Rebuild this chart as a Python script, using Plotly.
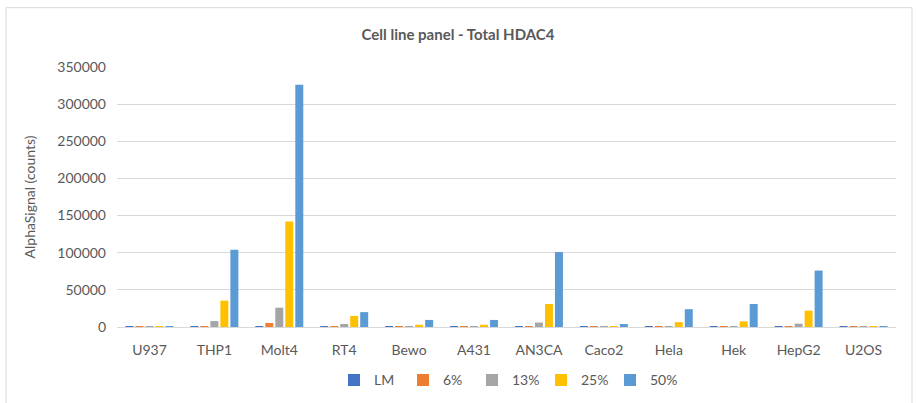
import plotly.graph_objects as go

categories = ["U937", "THP1", "Molt4", "RT4", "Bewo", "A431", "AN3CA", "Caco2", "Hela", "Hek", "HepG2", "U2OS"]
series_names = ["LM", "6%", "13%", "25%", "50%"]
colors = ["#4472C4", "#ED7D31", "#A5A5A5", "#FFC000", "#5B9BD5"]

lm   = [1000, 1000, 1000, 1000, 800, 800, 1000, 800, 800, 800, 1000, 800]
p6   = [1000, 1000, 5400, 1000, 800, 800, 1000, 800, 800, 800, 1000, 800]
p13  = [1000, 8000, 26000, 4000, 800, 800, 6000, 800, 800, 800, 4500, 800]
p25  = [1000, 35500, 142000, 15000, 3000, 3000, 31000, 800, 6500, 7500, 22000, 800]
p50  = [1000, 104000, 326000, 20000, 9500, 9500, 101000, 4000, 24000, 31000, 76000, 800]
values = [lm, p6, p13, p25, p50]

y_ticks = [0, 50000, 100000, 150000, 200000, 250000, 300000, 350000]

fig = go.Figure()
for name, vals, col in zip(series_names, values, colors):
    fig.add_trace(go.Bar(x=categories, y=vals, name=name, marker_color=col,
                         marker_line_width=0))

font_family = "Lato, 'Open Sans', sans-serif"
fig.update_layout(
    width=916, height=403,
    margin=dict(l=117, r=20, t=67, b=76, autoexpand=False),
    paper_bgcolor="white", plot_bgcolor="white",
    barmode="group", bargap=0.23, bargroupgap=0.2,
    font=dict(family=font_family, size=14, color="#595959"),
    title=dict(text="<b>Cell line panel - Total HDAC4</b>", x=0.5, xanchor="center",
               y=1 - 35 / 403, yanchor="middle",
               font=dict(family=font_family, size=15, color="#595959")),
    legend=dict(orientation="h", x=0.5, xanchor="center", y=-0.205, yanchor="middle",
                font=dict(size=14, color="#595959"), itemwidth=30, traceorder="normal",
                entrywidth=24, entrywidthmode="pixels"),
    yaxis=dict(range=[0, 350000], tickvals=y_ticks, ticktext=[str(v) for v in y_ticks],
               showgrid=True, gridcolor="#D9D9D9", gridwidth=1, zeroline=False,
               showline=False, ticks="", ticklen=0, ticklabelstandoff=10, automargin=False,
               title=dict(text="AlphaSignal (counts)", font=dict(size=14, color="#595959"),
                          standoff=18)),
    xaxis=dict(showline=True, linecolor="#D9D9D9", linewidth=1, ticks="",
               ticklabelstandoff=10, automargin=False,
               tickfont=dict(size=14, color="#595959")),
    shapes=[dict(type="rect", xref="paper", yref="paper",
                 x0=(6 - 117) / 779, x1=(912 - 117) / 779,
                 y0=-0.35, y1=(327.3 - 8) / 260,
                 line=dict(color="#D9D9D9", width=1), fillcolor="rgba(0,0,0,0)", layer="below")],
)

fig.write_html("out.html", config={"displayModeBar": False},
               post_script="document.body.style.margin='0';document.body.style.overflow='hidden';")
